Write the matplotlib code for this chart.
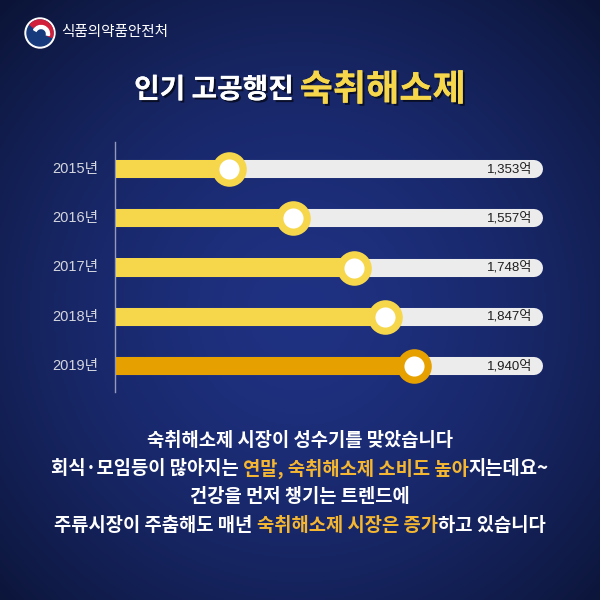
import numpy as np
import matplotlib
matplotlib.use("Agg")
import matplotlib.pyplot as plt
import matplotlib.patheffects as pe
from matplotlib.patches import Circle, Wedge

plt.rcParams['font.family'] = ['Noto Sans CJK KR', 'DejaVu Sans']

years = ["2015년", "2016년", "2017년", "2018년", "2019년"]
values = [1353, 1557, 1748, 1847, 1940]
value_labels = ["1,353억", "1,557억", "1,748억", "1,847억", "1,940억"]
agency = "식품의약품안전처"
title_parts = [("인기 고공행진 ", "white", 20), ("숙취해소제", "#f6d64a", 26)]
body_lines = [
    [("숙취해소제 시장이 성수기를 맞았습니다", "white")],
    [("회식·모임등이 많아지는 ", "white"), ("연말, 숙취해소제 소비도 높아", "#f5b731"), ("지는데요~", "white")],
    [("건강을 먼저 챙기는 트렌드에", "white")],
    [("주류시장이 주춤해도 매년 ", "white"), ("숙취해소제 시장은 증가", "#f5b731"), ("하고 있습니다", "white")],
]

X_MIN, X_MAX = 996, 2389
TRACK_END, LABEL_X = 2320, 2314
W = H = 600
fig = plt.figure(figsize=(6, 6), dpi=100)

# background gradient
bg = fig.add_axes([0, 0, 1, 1])
yy, xx = np.mgrid[0:1:300j, 0:1:300j]
r = np.sqrt((xx - 0.5) ** 2 + (yy - 0.52) ** 2) / 0.72
r = np.clip(r, 0, 1)
c_in = np.array([0x1f, 0x31, 0x82]) / 255
c_out = np.array([0x0b, 0x14, 0x36]) / 255
t = r[..., None] ** 1.6
img = c_in * (1 - t) + c_out * t
bg.imshow(img, extent=[0, 1, 0, 1], aspect='auto', origin='upper')
bg.set_xlim(0, 1); bg.set_ylim(0, 1)
bg.axis('off')

def fx(px): return px / W
def fy(py): return 1 - py / H

# logo
lx, ly = fx(40), fy(33)
u = 1 / W
bg.add_patch(Circle((lx, ly), 15 * u, color='white', zorder=3))
bg.add_patch(Circle((lx, ly), 13 * u, color='#173a7c', zorder=4))
bg.add_patch(Wedge((lx, ly), 13 * u, -20, 140, width=4.5 * u, color='#d2203a', zorder=5))
bg.add_patch(Wedge((lx + 1 * u, ly - 1 * u), 8.5 * u, -10, 150, width=3 * u, color='white', zorder=6))
bg.text(fx(61), fy(32), agency, color='white', fontsize=10.5, va='center', ha='left', fontweight='medium')

fig.canvas.draw()
renderer = fig.canvas.get_renderer()

def multi_text(parts, cy, weight='bold', default_size=13.5, shadow=False):
    texts = []
    for p in parts:
        s, col = p[0], p[1]
        fs = p[2] if len(p) > 2 else default_size
        tt = bg.text(0, cy, s, color=col, fontsize=fs, fontweight=weight, va='center', ha='left')
        if shadow:
            tt.set_path_effects([pe.withSimplePatchShadow(offset=(1.5, -1.5), shadow_rgbFace='black', alpha=0.6), pe.Normal()])
        texts.append(tt)
    widths = [tt.get_window_extent(renderer).width / W for tt in texts]
    total = sum(widths)
    x = 0.5 - total / 2
    for tt, w in zip(texts, widths):
        tt.set_x(x)
        x += w

multi_text(title_parts, fy(90), weight='bold', shadow=True)
for i, line in enumerate(body_lines):
    multi_text(line, fy(440 + i * 28.5))

# chart axes
ax = fig.add_axes([fx(116), fy(390), fx(440), (390 - 145) / H])
ax.patch.set_alpha(0)
ax.set_xlim(X_MIN, X_MAX)
ax.set_ylim(4.49, -0.49)
for s in ax.spines.values():
    s.set_visible(False)
ax.set_xticks([])
ax.set_yticks([])

for i, (v, lab) in enumerate(zip(values, value_labels)):
    ax.plot([X_MIN - 200, TRACK_END], [i, i], color='#ececec', lw=13, solid_capstyle='round', zorder=1)
    col = '#e6a100' if i == len(values) - 1 else '#f6d64a'
    ax.barh(i, v - X_MIN, left=X_MIN, height=0.37, color=col, zorder=2)
    ax.scatter([v], [i], s=620, color=col, zorder=3, linewidths=0)
    ax.scatter([v], [i], s=210, color='white', zorder=4, linewidths=0)
    ax.text(LABEL_X, i, lab, ha='right', va='center', fontsize=9.5, color='#1e1e1e', zorder=5,
            family=['Liberation Sans', 'Noto Sans CJK KR'])

# year labels and vertical line
for i, y in enumerate(years):
    ax.text(-0.04, i, y, transform=ax.get_yaxis_transform(), ha='right', va='center', fontsize=10.5,
            color='#d4d6de', family=['Liberation Sans', 'Noto Sans CJK KR'])
bg.plot([fx(115), fx(115)], [fy(142), fy(392)], color='#c8cce0', lw=1, alpha=0.7)

fig.savefig("out.png", dpi=100)
